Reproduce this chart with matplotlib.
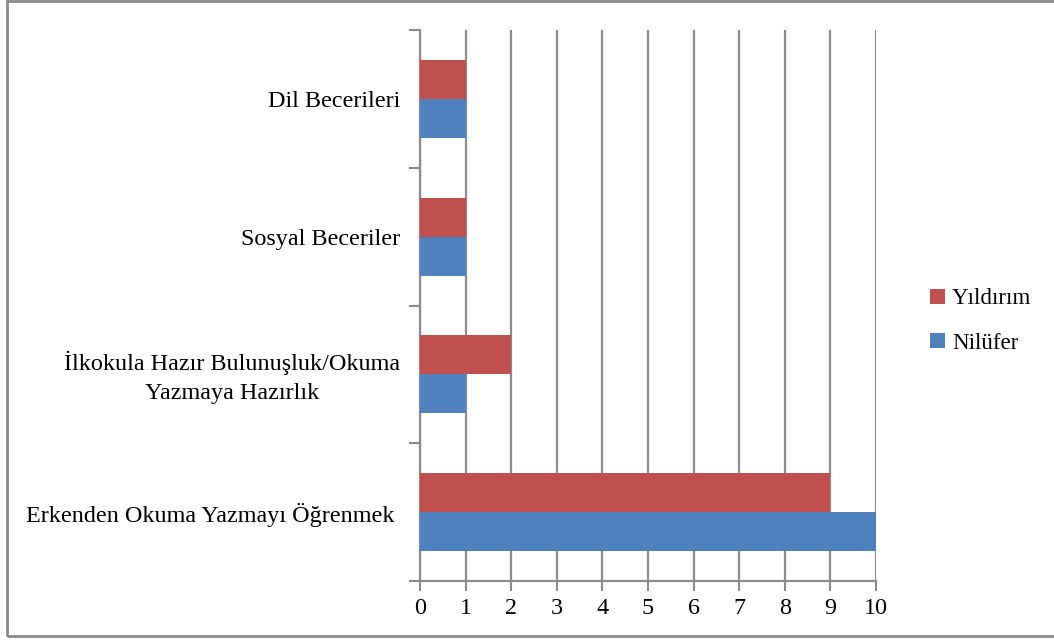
import matplotlib
matplotlib.use("Agg")
import matplotlib.pyplot as plt
import matplotlib.transforms as mtransforms
import numpy as np
from matplotlib.patches import Rectangle

categories = [
    "Erkenden Okuma Yazmayı Öğrenmek ",
    "İlkokula Hazır Bulunuşluk/Okuma\nYazmaya Hazırlık",
    "Sosyal Beceriler",
    "Dil Becerileri",
]
series_names = ["Nilüfer", "Yıldırım"]
nilufer = [10, 1, 1, 1]
yildirim = [9, 2, 1, 1]
x_ticks = list(range(0, 11))

blue = "#4F81BD"
red = "#C0504D"
grid_grey = "#8C8C8C"
fs = 17.4

plt.rcParams["font.family"] = ["Liberation Serif", "DejaVu Serif"]

fig = plt.figure(figsize=(10.54, 6.43), dpi=100)
ax = fig.add_axes([420 / 1054, 1 - 581 / 643, 456 / 1054, 551 / 643])

y = np.arange(len(categories))
h = 0.283
ax.barh(y - h / 2, nilufer, height=h, color=blue, label=series_names[0], zorder=3)
ax.barh(y + h / 2, yildirim, height=h, color=red, label=series_names[1], zorder=3)

ax.set_xlim(0, 10)
ax.set_ylim(-0.5, len(categories) - 0.5)
ax.set_xticks(x_ticks)
ax.set_xticklabels([str(t) for t in x_ticks], fontsize=fs)

# category boundaries carry the tick marks; names sit at the centres
ax.set_yticks(np.arange(-0.5, len(categories), 1.0))
ax.set_yticklabels([])
ax.tick_params(axis="y", length=8, width=1.5, color=grid_grey, direction="out")
ax.tick_params(axis="x", length=7, width=1.5, color=grid_grey, direction="out", pad=5)

label_tf = mtransforms.offset_copy(ax.get_yaxis_transform(), fig=fig,
                                   x=-20, y=-3, units="dots")
for yi, name in zip(y, categories):
    ax.text(0, yi, name, transform=label_tf,
            ha="right", va="center", multialignment="center",
            fontsize=fs, linespacing=1.55)

ax.grid(axis="x", color=grid_grey, linewidth=1.6, zorder=0)
for s in ["top", "right"]:
    ax.spines[s].set_visible(False)
for s in ["left", "bottom"]:
    ax.spines[s].set_color(grid_grey)
    ax.spines[s].set_linewidth(1.6)

handles, labels = ax.get_legend_handles_labels()
fig.legend(handles[::-1], labels[::-1], loc="center left",
           bbox_to_anchor=(914 / 1054, 1 - 321 / 643), frameon=False,
           fontsize=16.6, handlelength=0.65, handleheight=0.65,
           handletextpad=0.3, labelspacing=1.0, borderpad=0.2)

fig.patches.append(Rectangle((7 / 1054, 1 - 636 / 643), 1.0, 635 / 643,
                             transform=fig.transFigure, fill=False,
                             edgecolor="#8A8A8A", linewidth=2, zorder=10))

fig.savefig("out.png", dpi=100)
